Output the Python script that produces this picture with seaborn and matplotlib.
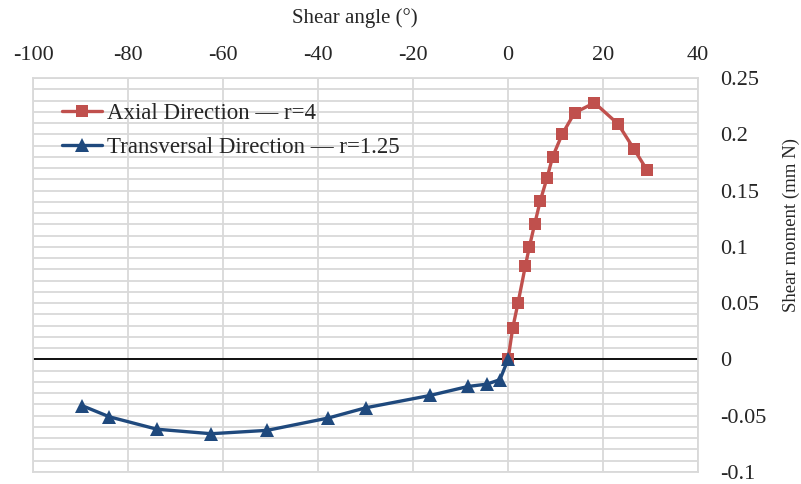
import matplotlib
matplotlib.use("Agg")
import matplotlib.pyplot as plt
import seaborn as sns
import pandas as pd
from matplotlib.ticker import MultipleLocator, FuncFormatter

# Data
axial_angle = [0, 1.0, 2.1, 3.65, 4.5, 5.6, 6.8, 8.2, 9.4, 11.4, 14.0, 18.2, 23.2, 26.5, 29.3]
axial_moment = [0, 0.028, 0.050, 0.083, 0.100, 0.120, 0.141, 0.161, 0.180, 0.200,
                0.219, 0.228, 0.209, 0.187, 0.168]
trans_angle = [-89.7, -83.9, -73.9, -62.5, -50.7, -37.8, -30.0, -16.4, -8.4, -4.5, -1.7, 0]
trans_moment = [-0.041, -0.051, -0.062, -0.066, -0.063, -0.052, -0.043, -0.032,
                -0.024, -0.022, -0.018, 0]
x_ticks = [-100, -80, -60, -40, -20, 0, 20, 40]
y_ticks = [-0.1, -0.05, 0, 0.05, 0.1, 0.15, 0.2, 0.25]

sns.set_theme(style="white")
plt.rcParams['font.family'] = ['Liberation Serif', 'DejaVu Serif']
plt.rcParams['axes.unicode_minus'] = False

fig = plt.figure(figsize=(8.01, 4.84), dpi=100)
ax = fig.add_axes([33/801, 1 - 472/484, (698 - 33)/801, (472 - 78)/484])

red = "#C0504D"
blue = "#1F497D"

df_a = pd.DataFrame({"angle": axial_angle, "moment": axial_moment})
df_t = pd.DataFrame({"angle": trans_angle, "moment": trans_moment})

ax.axhline(0, color="black", lw=1.3, zorder=2)

sns.lineplot(data=df_a, x="angle", y="moment", ax=ax, color=red, lw=2.4,
             marker="s", markersize=8, markeredgewidth=0, sort=False,
             label="Axial Direction — r=4", zorder=3)
sns.lineplot(data=df_t, x="angle", y="moment", ax=ax, color=blue, lw=2.4,
             marker="^", markersize=9.5, markeredgewidth=0, sort=False,
             label="Transversal Direction — r=1.25", zorder=4)

ax.set_xlim(-100, 40)
ax.set_ylim(-0.1, 0.25)
ax.set_xticks(x_ticks)
ax.set_yticks(y_ticks)
ax.yaxis.set_minor_locator(MultipleLocator(0.01))
ax.xaxis.set_major_formatter(FuncFormatter(lambda v, p: f"{v:g}"))
ax.yaxis.set_major_formatter(FuncFormatter(lambda v, p: f"{v:g}"))

ax.grid(True, which="major", axis="both", color="#D9D9D9", lw=1.3)
ax.grid(True, which="minor", axis="y", color="#D9D9D9", lw=1.3)
ax.set_axisbelow(True)
for s in ax.spines.values():
    s.set_color("#D9D9D9")
    s.set_linewidth(1.3)

ax.xaxis.tick_top()
ax.xaxis.set_label_position("top")
ax.yaxis.tick_right()
ax.yaxis.set_label_position("right")
ax.tick_params(axis="both", which="both", length=0, labelsize=16)
ax.tick_params(axis="x", pad=9)
ax.tick_params(axis="y", pad=16)

ax.set_xlabel("Shear angle (°)", fontsize=15)
ax.xaxis.set_label_coords((355 - 33) / 665, (472 - 18) / 394)
ax.xaxis.label.set_verticalalignment("center")
ax.set_ylabel("Shear moment (mm N)", fontsize=13.5)
ax.yaxis.set_label_coords((791 - 33) / 665, (472 - 225) / 394)
ax.yaxis.label.set_verticalalignment("center")
ax.yaxis.label.set_horizontalalignment("center")

leg = ax.legend(loc="upper left", bbox_to_anchor=((62 - 33) / 665, (472 - 103) / 394),
                frameon=False, fontsize=16.5, handlelength=1.75, handletextpad=0.22,
                labelspacing=0.58, borderaxespad=0, borderpad=0)

fig.savefig("out.png", dpi=100)
